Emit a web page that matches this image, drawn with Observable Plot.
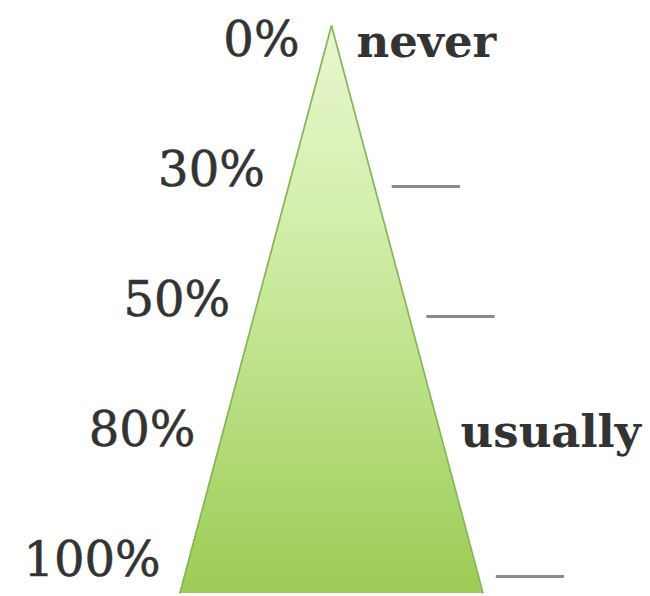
<!DOCTYPE html>
<html>
<head>
<meta charset="utf-8">
<script src="https://cdn.jsdelivr.net/npm/d3@7"></script>
<script src="https://cdn.jsdelivr.net/npm/@observablehq/plot@0.6"></script>
<style>
  html, body { margin: 0; padding: 0; background: #fff; }
  #chart svg { display: block; }
</style>
</head>
<body>
<div id="chart"></div>
<script>
// Frequency levels (left labels), top to bottom
const levels = ["0%", "30%", "50%", "80%", "100%"];
// Adverbs on the right ("" = blank line to fill in)
const answers = ["never", "", "", "usually", ""];
// Triangle extent in level units (apex slightly above first level, base below last)
const apexLevel = -0.115;
const baseLevel = 4.254;

const rows = levels.map((label, i) => ({i, label, answer: answers[i]}));
const halfWidth = (i) => (i - apexLevel) / (baseLevel - apexLevel);

const triangle = [
  {y: apexLevel, w: 0},
  {y: baseLevel, w: 1}
];
const sides = [
  {x1: 0, y1: apexLevel, x2: -1, y2: baseLevel},
  {x1: 0, y1: apexLevel, x2: 1, y2: baseLevel}
];

const chart = Plot.plot({
  width: 650,
  height: 596,
  margin: 0,
  x: {domain: [-2.183, 2.104], axis: null},
  y: {domain: [-0.3077, 4.277], reverse: true, axis: null},
  style: {background: "#fff", overflow: "visible"},
  marks: [
    Plot.areaX(triangle, {y: "y", x1: d => -d.w, x2: "w", fill: "url(#triGrad)", curve: "linear"}),
    Plot.link(sides, {x1: "x1", y1: "y1", x2: "x2", y2: "y2", stroke: "#84b657", strokeWidth: 1.7}),
    Plot.text(rows, {
      x: d => -halfWidth(d.i), y: "i", text: "label",
      textAnchor: "end", dx: -28,
      fontSize: 48, fontFamily: "DejaVu Serif", fill: "#333", stroke: "#333", strokeWidth: 0.6
    }),
    Plot.text(rows.filter(d => d.answer), {
      x: d => halfWidth(d.i), y: "i", text: "answer",
      textAnchor: "start", dx: 21, dy: 2,
      fontSize: 45, fontWeight: "bold", fontFamily: "DejaVu Serif", fill: "#333"
    }),
    Plot.ruleY(rows.filter(d => !d.answer), {
      y: "i", x1: d => halfWidth(d.i), x2: d => halfWidth(d.i) + 0.45,
      dx: 22, dy: 16, stroke: "#8a8a8a", strokeWidth: 3
    })
  ]
});

// gradient definition for the triangle fill
const ns = "http://www.w3.org/2000/svg";
const defs = document.createElementNS(ns, "defs");
const grad = document.createElementNS(ns, "linearGradient");
grad.setAttribute("id", "triGrad");
grad.setAttribute("x1", "0"); grad.setAttribute("y1", "0");
grad.setAttribute("x2", "0"); grad.setAttribute("y2", "1");
[["0", "#e9f7cf"], ["0.35", "#d2eeaa"], ["0.6", "#bde28a"], ["1", "#9ccc55"]].forEach(([o, c]) => {
  const s = document.createElementNS(ns, "stop");
  s.setAttribute("offset", o); s.setAttribute("stop-color", c);
  grad.appendChild(s);
});
defs.appendChild(grad);
chart.insertBefore(defs, chart.firstChild);

document.getElementById("chart").appendChild(chart);
</script>
</body>
</html>
